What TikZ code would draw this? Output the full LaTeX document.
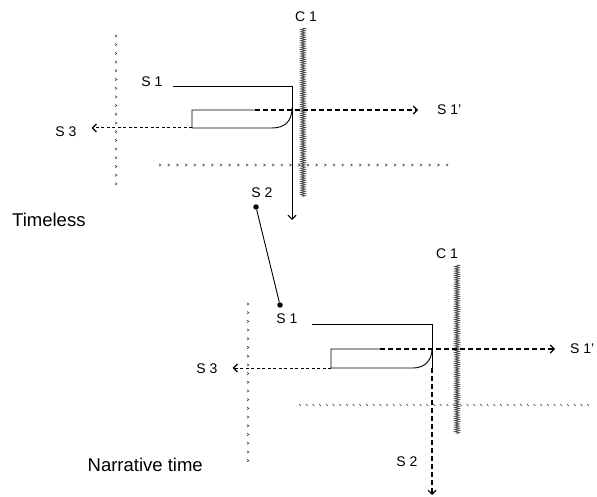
\documentclass[tikz,border=0pt]{standalone}
\usepackage{fontspec}
\setmainfont{Liberation Sans}
\usetikzlibrary{arrows.meta,decorations.pathmorphing}
\begin{document}
\begin{tikzpicture}[x=1pt,y=-1pt,
  lbl/.style={font=\fontsize{14}{16}\selectfont, inner sep=0pt},
  biglbl/.style={font=\fontsize{18.5}{20}\selectfont, inner sep=0pt},
  solidline/.style={line width=0.9pt, black},
  thickdash/.style={line width=1.4pt, dash pattern=on 5pt off 3pt, black},
  thindash/.style={line width=1pt, dash pattern=on 3pt off 2.5pt, black},
  barb/.style={-{Straight Barb[length=4pt,width=8pt,line width=1.1pt]}},
  hatchbar/.style={line width=0.7pt, black!75, decorate,
    decoration={zigzag, segment length=2.2pt, amplitude=2.3pt}},
  chv/.pic={\draw[line width=0.55pt, black!80] (-1,-1.2)--(0.9,0)--(-1,1.2);},
  tck/.pic={\draw[line width=0.55pt, black!80] (-0.9,-1)--(0.9,1);},
  dotnode/.style={circle, fill=black, inner sep=0pt, minimum size=5.5pt}
]
\useasboundingbox (0,0) rectangle (597,497);

% ================= top diagram (Timeless) =================
\foreach \y in {36,44.7,...,186} \pic at (116,\y) {chv};
\foreach \x in {160,168.7,...,452} \pic at (\x,165) {chv};
\node[lbl] (c1t) at (306,17) {C 1};
\coordinate (ht1) at (303,28);
\coordinate (ht2) at (303,197);
\draw[hatchbar] (ht1) -- (ht2);

\node[lbl] (s1t) at (152,82) {S 1};
\coordinate (a1) at (173,86);
\coordinate (a2) at (292,86);
\coordinate (a3) at (292,220);
\draw[solidline, barb] (a1) -- (a2) -- (a3);

\coordinate (b0) at (255,110);
\coordinate (b1) at (192,110);
\coordinate (b2) at (192,128);
\coordinate (b3) at (272,128);
\coordinate (b4) at (292,108);
\draw[solidline] (b0) -- (b1) -- (b2) -- (b3) .. controls (285,128) and (292,121) .. (b4);

\node[lbl, anchor=west] (s1pt) at (437,110) {S 1'};
\draw[thickdash, barb] (b0) -- ([xshift=-19pt]s1pt.west);

\node[lbl] (s3t) at (66,132) {S 3};
\draw[thindash, barb] (b2) -- ([xshift=15pt]s3t.east |- b2);

\node[lbl] (s2t) at (262,193) {S 2};
\node[dotnode] (d1) at (256,207) {};
\node[dotnode] (d2) at (280,305) {};
\draw[solidline] (d1) -- (d2);
\node[lbl] (s1m) at (287,319) {S 1};

\node[biglbl, anchor=west] (tl) at (12,220) {Timeless};

% ================= lower diagram (Narrative time) =================
\foreach \y in {304,312.7,...,462} \pic at (248,\y) {chv};
\foreach \x in {300,306.7,...,590} \pic at (\x,405) {tck};
\node[lbl] (c1b) at (447,254) {C 1};
\coordinate (hb1) at (457,265);
\coordinate (hb2) at (457,434);
\draw[hatchbar] (hb1) -- (hb2);

\coordinate (e1) at (312,324);
\coordinate (e2) at (432,324);
\coordinate (e3) at (432,368);
\coordinate (e4) at (432,495);
\draw[solidline] (e1) -- (e2) -- (e3);
\draw[thickdash, barb] (e3) -- (e4);
\node[lbl] (s2b) at (407,462) {S 2};

\coordinate (f0) at (380,349);
\coordinate (f1) at (331,349);
\coordinate (f2) at (331,368);
\coordinate (f3) at (413,368);
\coordinate (f4) at (432,349);
\draw[solidline] (f0) -- (f1) -- (f2) -- (f3) .. controls (425,368) and (432,360) .. (f4);

\node[lbl, anchor=west] (s1pb) at (570,349) {S 1'};
\draw[thickdash, barb] (f0) -- ([xshift=-15pt]s1pb.west);

\node[lbl] (s3b) at (207,369) {S 3};
\draw[thindash, barb] (f2) -- ([xshift=15pt]s3b.east |- f2);

\node[biglbl, anchor=east] (nt) at (203,465) {Narrative time};
\end{tikzpicture}
\end{document}
